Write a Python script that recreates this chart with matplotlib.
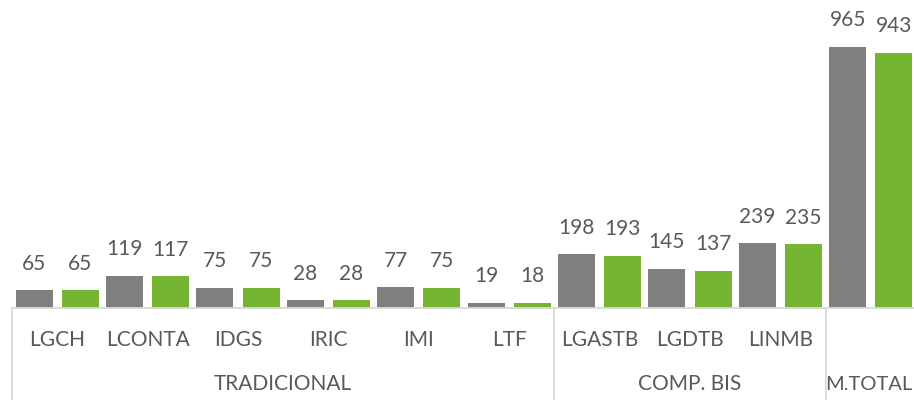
import matplotlib
matplotlib.use("Agg")
import matplotlib.pyplot as plt
import matplotlib.transforms as mtransforms

categories = ["LGCH", "LCONTA", "IDGS", "IRIC", "IMI", "LTF", "LGASTB", "LGDTB", "LINMB", ""]
groups = ["TRADICIONAL", "COMP. BIS", "M.TOTAL"]
group_sizes = [6, 3, 1]
series_gray = [65, 119, 75, 28, 77, 19, 198, 145, 239, 965]
series_green = [65, 117, 75, 28, 75, 18, 193, 137, 235, 943]

GRAY = "#7f7f7f"
GREEN = "#76b531"
TXT = "#595959"
LINE = "#d9d9d9"
FS = 15

plt.rcParams["font.family"] = ["Lato", "DejaVu Sans"]

W, H = 914, 400
fig = plt.figure(figsize=(W / 100, H / 100), dpi=100)
left_px, base_px, right_px = 12, 308, 916
ax = fig.add_axes([left_px / W, (H - base_px) / H, (right_px - left_px) / W, base_px / H])

n = len(categories)
xs = list(range(n))
bw = 0.41
off = 0.255
ax.bar([x - off for x in xs], series_gray, width=bw, color=GRAY, edgecolor="none")
ax.bar([x + off for x in xs], series_green, width=bw, color=GREEN, edgecolor="none")

for x, v in zip(xs, series_gray):
    ax.annotate(str(v), (x - off, v), xytext=(0, 12), textcoords="offset points",
                ha="center", va="bottom", fontsize=FS, color=TXT)
for x, v in zip(xs, series_green):
    ax.annotate(str(v), (x + off, v), xytext=(0, 12), textcoords="offset points",
                ha="center", va="bottom", fontsize=FS, color=TXT)

ax.set_xlim(-0.5, n - 0.5)
ax.set_ylim(0, base_px / 0.2705)
ax.axis("off")

trans = mtransforms.blended_transform_factory(ax.transData, ax.transAxes)
bottom = -(H - base_px) / base_px
ax.plot([-0.5, n - 0.5], [0, 0], transform=trans, color=LINE, lw=1.3, clip_on=False)
bounds = [-0.5]
acc = -0.5
for s in group_sizes:
    acc += s
    bounds.append(acc)
for b in bounds[:-1]:
    ax.plot([b, b], [0, bottom], transform=trans, color=LINE, lw=1.3, clip_on=False)

for x, c in zip(xs, categories):
    if c:
        ax.text(x, -32 / base_px, c, transform=trans, ha="center", va="center",
                fontsize=FS, color=TXT)
for i, g in enumerate(groups):
    center = (bounds[i] + bounds[i + 1]) / 2
    if i == len(groups) - 1:
        fig.text(912 / W, 16 / H, g, ha="right", va="center", fontsize=14.5, color=TXT)
    else:
        ax.text(center, -76 / base_px, g, transform=trans, ha="center", va="center",
                fontsize=FS, color=TXT)

fig.savefig("out.png", dpi=100)
